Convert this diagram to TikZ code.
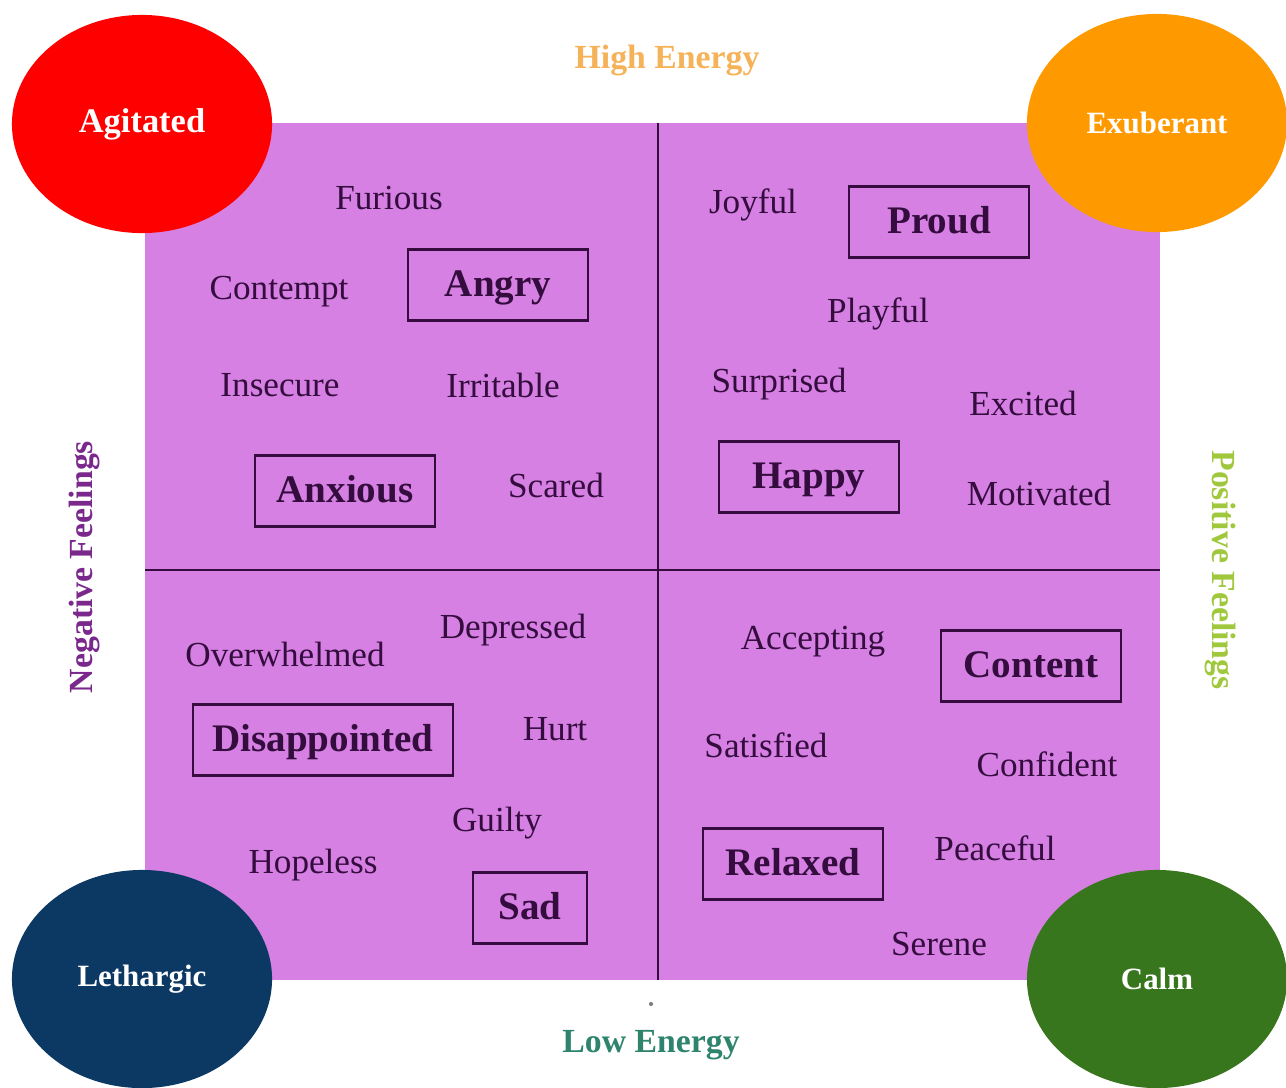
\documentclass[tikz,border=0pt]{standalone}
\usepackage{fontspec}
\setmainfont{Liberation Serif}
\usetikzlibrary{shapes.geometric}

\definecolor{grid}{RGB}{213,128,226}
\definecolor{ink}{RGB}{52,12,62}
\definecolor{agired}{RGB}{255,0,0}
\definecolor{exuorange}{RGB}{255,153,0}
\definecolor{letnavy}{RGB}{12,56,100}
\definecolor{calmgreen}{RGB}{56,118,29}
\definecolor{highorange}{RGB}{246,178,88}
\definecolor{lowteal}{RGB}{46,132,108}
\definecolor{negpurple}{RGB}{122,40,140}
\definecolor{posgreen}{RGB}{160,200,60}

\begin{document}
\begin{tikzpicture}[x=0.01cm, y=-0.01cm,
    word/.style={text=ink, yshift=-0.02cm, font=\fontsize{10}{12}\selectfont},
    boxword/.style={draw=ink, line width=0.6pt, text=ink, inner sep=0pt,
                    minimum width=1.8cm, minimum height=0.71cm,
                    text height=1.75ex, text depth=0.3ex,
                    font=\fontsize{11.1}{13}\selectfont\bfseries},
    mood/.style={ellipse, fill=#1, inner sep=0pt, minimum width=2.6cm,
                 minimum height=2.18cm, text=white,
                 font=\fontsize{8.8}{12}\selectfont\bfseries},
    axis/.style={yshift=-0.04cm, font=\fontsize{9.6}{12}\selectfont\bfseries}]
    \useasboundingbox (0,0) rectangle (1286,1087);

    % the four quadrants
    \fill[grid] (145,123) rectangle (1160,980);
    \draw[ink, line width=0.5pt] (658,123) -- (658,980);
    \draw[ink, line width=0.5pt] (145,570) -- (1160,570);

    % axis labels
    \node[axis, text=highorange] (high) at (667,57) {High Energy};
    \node[axis, text=lowteal] (low) at (651,1041) {Low Energy};
    \node[axis, text=negpurple, rotate=90, xshift=0.04cm] (neg) at (85,567) {Negative Feelings};
    \node[axis, text=posgreen, rotate=-90, xshift=-0.04cm] (pos) at (1220,570) {Positive Feelings};
    \fill[gray] (651,1004) circle (0.6pt);

    % corner moods
    \node[mood=agired, font=\fontsize{9.8}{12}\selectfont\bfseries] (agitated) at (142,124) {Agitated};
    \node[mood=exuorange] (exuberant) at (1157,123) {Exuberant};
    \node[mood=letnavy] (lethargic) at (142,979) {Lethargic};
    \node[mood=calmgreen] (calm) at (1157,979) {Calm};

    % top left
    \node[word] (furious) at (389,196) {Furious};
    \node[word] (contempt) at (279,290) {Contempt};
    \node[boxword] (angry) at (498,285) {Angry};
    \node[word] (insecure) at (280,383) {Insecure};
    \node[word] (irritable) at (503,383) {Irritable};
    \node[boxword] (anxious) at (345,491) {Anxious};
    \node[word] (scared) at (556,483) {Scared};

    % top right
    \node[word] (joyful) at (753,203) {Joyful};
    \node[boxword] (proud) at (939,222) {Proud};
    \node[word] (playful) at (878,312) {Playful};
    \node[word] (surprised) at (779,382) {Surprised};
    \node[word] (excited) at (1023,401) {Excited};
    \node[boxword] (happy) at (809,477) {Happy};
    \node[word] (motivated) at (1039,491) {Motivated};

    % bottom left
    \node[word] (overwhelmed) at (285,652) {Overwhelmed};
    \node[word] (depressed) at (513,628) {Depressed};
    \node[boxword, minimum width=2.59cm] (disappointed) at (323,740) {Disappointed};
    \node[word] (hurt) at (555,727) {Hurt};
    \node[word] (guilty) at (497,821) {Guilty};
    \node[word] (hopeless) at (313,863) {Hopeless};
    \node[boxword, minimum width=1.14cm] (sad) at (530,908) {Sad};

    % bottom right
    \node[word] (accepting) at (813,640) {Accepting};
    \node[boxword] (content) at (1031,666) {Content};
    \node[word] (satisfied) at (766,743) {Satisfied};
    \node[word] (confident) at (1047,762) {Confident};
    \node[boxword] (relaxed) at (793,864) {Relaxed};
    \node[word] (peaceful) at (995,846) {Peaceful};
    \node[word] (serene) at (939,942) {Serene};
\end{tikzpicture}
\end{document}
